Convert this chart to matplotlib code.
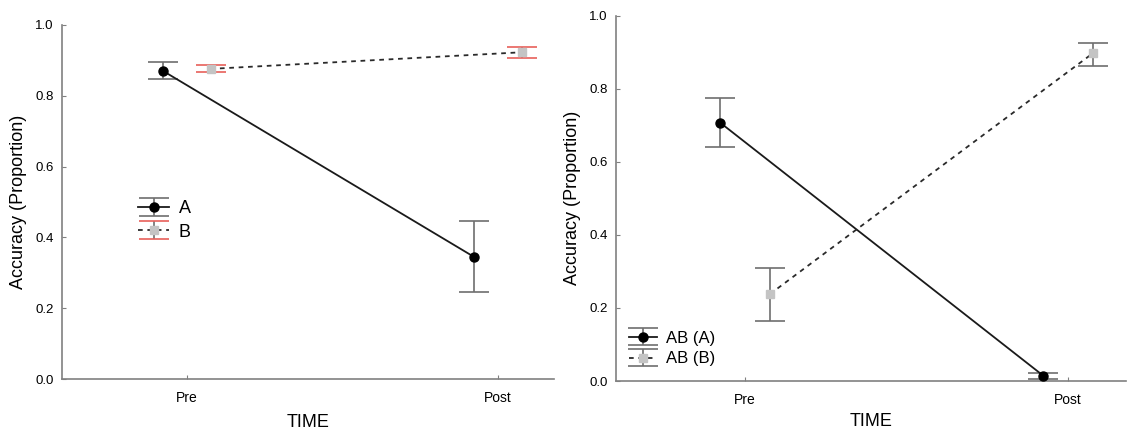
import matplotlib
matplotlib.use("Agg")
import matplotlib.pyplot as plt
import numpy as np

plt.rcParams['font.family'] = ['Liberation Sans', 'DejaVu Sans']

times = ["Pre", "Post"]

# Left panel
left_labels = ["A", "B"]
left_A = [0.871, 0.345]
left_A_lo = [0.847, 0.246]
left_A_hi = [0.896, 0.445]
left_B = [0.876, 0.923]
left_B_lo = [0.867, 0.908]
left_B_hi = [0.886, 0.938]

# Right panel
right_labels = ["AB (A)", "AB (B)"]
right_A = [0.707, 0.015]
right_A_lo = [0.640, 0.006]
right_A_hi = [0.774, 0.022]
right_B = [0.238, 0.897]
right_B_lo = [0.163, 0.863]
right_B_hi = [0.310, 0.926]

W, H = 1127, 429
fig = plt.figure(figsize=(W / 100, H / 100), dpi=100)

spine_col = '#808080'
err_col = '#6e6e6e'
red_col = '#e8605a'
off = 0.077


def panel(ax, labels, a, alo, ahi, b, blo, bhi, bcap_col, legend_pos, legfs, xlpad):
    x = np.arange(len(times))
    ax.errorbar(x - off, a,
                yerr=[np.array(a) - np.array(alo), np.array(ahi) - np.array(a)],
                color='#1a1a1a', lw=1.3, marker='o', ms=6.5, mfc='black', mec='black',
                ecolor=err_col, elinewidth=1.2, capsize=11, capthick=1.2,
                label=labels[0], clip_on=False, zorder=3)
    eb = ax.errorbar(x + off, b,
                     yerr=[np.array(b) - np.array(blo), np.array(bhi) - np.array(b)],
                     color='#2a2a2a', lw=1.3, ls=(0, (2.6, 2.6)), marker='s', ms=6,
                     mfc='#c4c4c4', mec='#c4c4c4',
                     ecolor=err_col, elinewidth=1.2, capsize=11, capthick=1.2,
                     label=labels[1], clip_on=False, zorder=3)
    for cl in eb[1]:
        cl.set_color(bcap_col)
        cl.set_markeredgecolor(bcap_col)
        cl.set_markerfacecolor(bcap_col)
    ax.set_xlim(-0.40, 1.18)
    ax.set_ylim(0, 1.0)
    ax.set_xticks(x)
    ax.set_xticklabels(times)
    ax.set_yticks([0, 0.2, 0.4, 0.6, 0.8, 1.0])
    ax.set_yticklabels(["0.0", "0.2", "0.4", "0.6", "0.8", "1.0"])
    for s in ['top', 'right']:
        ax.spines[s].set_visible(False)
    for s in ['left', 'bottom']:
        ax.spines[s].set_color(spine_col)
        ax.spines[s].set_linewidth(1.2)
    ax.tick_params(axis='both', direction='in', length=3, color=spine_col,
                   labelcolor='#000000')
    ax.tick_params(axis='x', pad=9, labelsize=10)
    ax.tick_params(axis='y', pad=6, labelsize=9.5)
    ax.set_xlabel("TIME", fontsize=13, labelpad=xlpad)
    ax.set_ylabel("Accuracy (Proportion)", fontsize=13, labelpad=6)
    leg = ax.legend(loc='upper left', bbox_to_anchor=legend_pos, frameon=False,
                    fontsize=legfs, handlelength=1.7, handletextpad=0.55,
                    labelspacing=0.35, borderpad=0.0, borderaxespad=0.0)
    return leg


ax1 = fig.add_axes([62 / W, 1 - 379 / H, (554 - 62) / W, (379 - 25) / H])
panel(ax1, left_labels, left_A, left_A_lo, left_A_hi, left_B, left_B_lo, left_B_hi,
      red_col, (0.155, 0.505), 13, 6)

ax2 = fig.add_axes([616 / W, 1 - 381 / H, (1126 - 616) / W, (381 - 15.7) / H])
panel(ax2, right_labels, right_A, right_A_lo, right_A_hi, right_B, right_B_lo, right_B_hi,
      err_col, (0.025, 0.138), 12, 4)

fig.savefig("out.png", dpi=100)
